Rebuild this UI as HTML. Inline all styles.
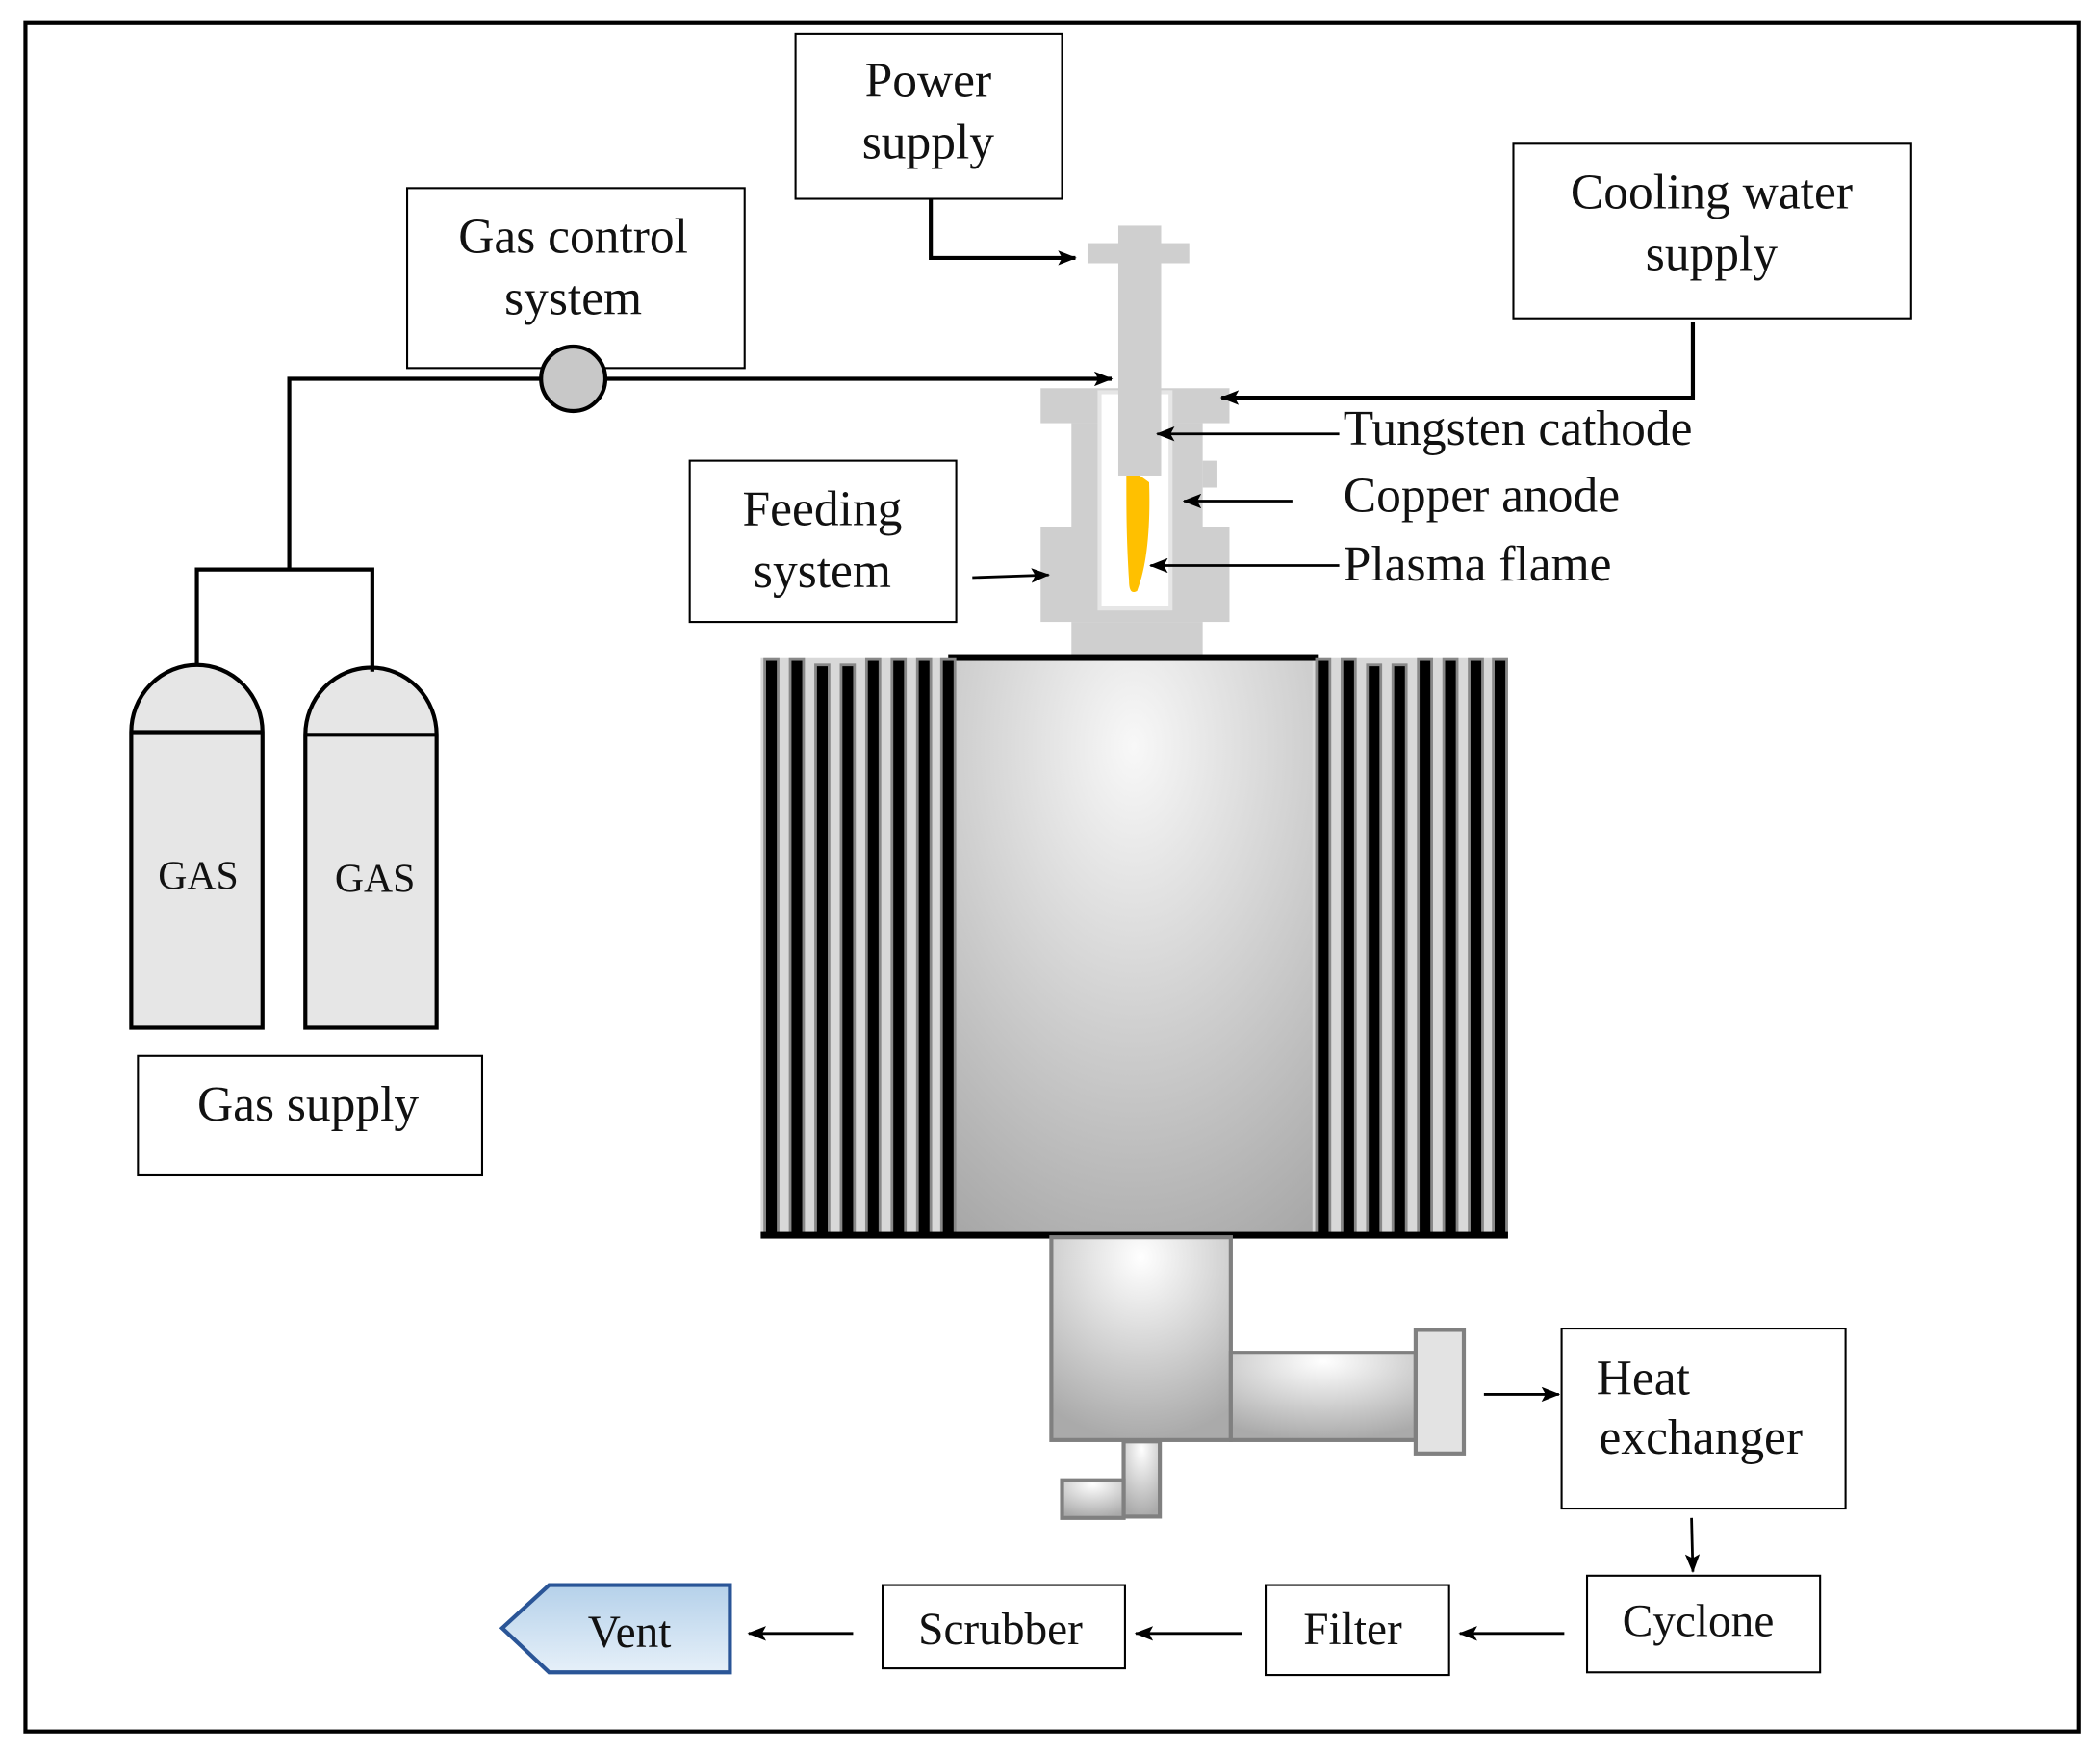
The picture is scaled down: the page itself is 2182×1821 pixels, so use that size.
<!DOCTYPE html>
<html><head><meta charset="utf-8"><style>
html,body{margin:0;padding:0;background:#fff}
svg{display:block}
text{font-family:"Liberation Serif",serif;fill:#111}
</style></head><body>
<svg width="2182" height="1821" viewBox="0 0 1568 1305" preserveAspectRatio="none" xmlns="http://www.w3.org/2000/svg">
<defs>
<marker id="ah" markerWidth="14" markerHeight="11" refX="13" refY="5.5" orient="auto" markerUnits="userSpaceOnUse"><path d="M0,0 L14,5.5 L0,11 L3,5.5 z" fill="#000"/></marker>
<radialGradient id="rg" cx="0.5" cy="0.15" r="1"><stop offset="0" stop-color="#f8f8f8"/><stop offset="1" stop-color="#a5a5a5"/></radialGradient>
<radialGradient id="rg2" cx="0.5" cy="0.1" r="0.9"><stop offset="0" stop-color="#fff"/><stop offset="1" stop-color="#aaa"/></radialGradient>
<linearGradient id="vg" x1="0" y1="0" x2="0" y2="1"><stop offset="0" stop-color="#b5d1ea"/><stop offset="1" stop-color="#e6f0f9"/></linearGradient>
</defs>
<rect x="19" y="17" width="1533" height="1272" fill="none" stroke="#000" stroke-width="3"/>

<!-- boxes -->
<g fill="#fff" stroke="#000" stroke-width="1.5">
<rect x="594" y="25" width="199" height="123"/>
<rect x="304" y="140" width="252" height="134"/>
<rect x="1130" y="107" width="297" height="130"/>
<rect x="515" y="343" width="199" height="120"/>
<rect x="103" y="786" width="257" height="89"/>
<rect x="1166" y="989" width="212" height="134"/>
<rect x="1185" y="1173" width="174" height="72"/>
<rect x="945" y="1180" width="137" height="67"/>
<rect x="659" y="1180" width="181" height="62"/>
</g>
<polygon points="410,1180 545,1180 545,1245 410,1245 375,1212" fill="url(#vg)" stroke="#2a5597" stroke-width="3"/>

<g font-size="37" text-anchor="middle">
<text x="693" y="72">Power</text><text x="693" y="118">supply</text>
<text x="428" y="188">Gas control</text><text x="428" y="234">system</text>
<text x="1278" y="155">Cooling water</text><text x="1278" y="201">supply</text>
<text x="614" y="391">Feeding</text><text x="614" y="437">system</text>
<text x="230" y="834">Gas supply</text>
<text x="1270" y="1082">exchanger</text>
<text x="1268" y="1218" font-size="34">Cyclone</text>
<text x="1010" y="1224" font-size="34">Filter</text>
<text x="747" y="1224" font-size="34">Scrubber</text>
<text x="470" y="1226" font-size="34">Vent</text>
<text x="898" y="846">Reactor</text><text x="898" y="894">chamber</text>
</g>
<g font-size="37">
<text x="1192" y="1038">Heat</text>
<text x="1003" y="331">Tungsten cathode</text>
<text x="1003" y="381">Copper anode</text>
<text x="1003" y="432">Plasma flame</text>
</g>

<!-- gas cylinders -->
<g stroke="#000" stroke-width="3" fill="#e6e6e6">
<path d="M98,765 V545 A49,50 0 0 1 196,545 V765 Z"/>
<line x1="98" y1="545" x2="196" y2="545"/>
<path d="M228,765 V547 A49,50 0 0 1 326,547 V765 Z"/>
<line x1="228" y1="547" x2="326" y2="547"/>
</g>
<text x="148" y="662" font-size="30" text-anchor="middle">GAS</text>
<text x="280" y="664" font-size="30" text-anchor="middle">GAS</text>

<!-- torch -->
<g fill="#cfcfcf">
<rect x="777" y="289" width="141" height="26"/>
<rect x="800" y="315" width="98" height="77"/>
<rect x="898" y="343" width="11" height="20"/>
<rect x="777" y="392" width="141" height="71"/>
<rect x="800" y="463" width="98" height="27"/>
</g>
<rect x="821" y="292" width="53" height="161" fill="#fff" stroke="#e6e6e6" stroke-width="3"/>
<g fill="#cfcfcf">
<rect x="835" y="168" width="32" height="186"/>
<rect x="812" y="181" width="76" height="15"/>
</g>
<path d="M841,354 L851,354 L858,359 C859,390 857,420 849,440 C845,442 843,440 843,432 C841,400 841,380 841,354 Z" fill="#ffc000"/>

<!-- gas lines -->
<g stroke="#000" stroke-width="3" fill="none">
<polyline points="147,495 147,424 278,424 278,500"/>
<polyline points="216,424 216,282 405,282"/>
<line x1="451" y1="282" x2="830" y2="282" marker-end="url(#ah)"/>
<polyline points="695,148 695,192 803,192" marker-end="url(#ah)"/>
<polyline points="1264,240 1264,296 912,296" marker-end="url(#ah)"/>
</g>
<circle cx="428" cy="282" r="24" fill="#c8c8c8" stroke="#000" stroke-width="3"/>
<g stroke="#000" stroke-width="2" fill="none">
<line x1="1000" y1="323" x2="864" y2="323" marker-end="url(#ah)"/>
<line x1="965" y1="373" x2="884" y2="373" marker-end="url(#ah)"/>
<line x1="1000" y1="421" x2="859" y2="421" marker-end="url(#ah)"/>
<line x1="726" y1="430" x2="783" y2="428" marker-end="url(#ah)"/>
<line x1="1108" y1="1038" x2="1164" y2="1038" marker-end="url(#ah)"/>
<line x1="1263" y1="1130" x2="1264" y2="1170" marker-end="url(#ah)"/>
<line x1="1168" y1="1216" x2="1090" y2="1216" marker-end="url(#ah)"/>
<line x1="927" y1="1216" x2="848" y2="1216" marker-end="url(#ah)"/>
<line x1="637" y1="1216" x2="559" y2="1216" marker-end="url(#ah)"/>
</g>

<!-- reactor -->
<rect x="568" y="490" width="558" height="430" fill="#d8d8d8"/>
<rect x="713" y="491" width="267" height="430" fill="url(#rg)"/>
<rect x="708" y="487" width="276" height="5" fill="#000"/>
<g fill="#000" stroke="#888" stroke-width="2">
<rect x="571" y="491" width="10" height="429"/>
<rect x="590" y="491" width="10" height="429"/>
<rect x="609" y="495" width="10" height="425"/>
<rect x="628" y="495" width="10" height="425"/>
<rect x="647" y="491" width="10" height="429"/>
<rect x="666" y="491" width="10" height="429"/>
<rect x="685" y="491" width="10" height="429"/>
<rect x="703" y="491" width="10" height="429"/>
<rect x="983" y="491" width="10" height="429"/>
<rect x="1002" y="491" width="10" height="429"/>
<rect x="1021" y="495" width="10" height="425"/>
<rect x="1040" y="495" width="10" height="425"/>
<rect x="1059" y="491" width="10" height="429"/>
<rect x="1078" y="491" width="10" height="429"/>
<rect x="1097" y="491" width="10" height="429"/>
<rect x="1115" y="491" width="10" height="429"/>
</g>
<rect x="568" y="917" width="558" height="5" fill="#000"/>

<!-- outlet -->
<g stroke="#808080" stroke-width="3">
<rect x="785" y="921" width="134" height="151" fill="url(#rg2)"/>
<rect x="919" y="1007" width="138" height="65" fill="url(#rg2)"/>
<rect x="1057" y="990" width="36" height="92" fill="#e3e3e3"/>
<rect x="839" y="1073" width="27" height="56" fill="url(#rg2)"/>
<rect x="793" y="1102" width="46" height="28" fill="url(#rg2)"/>
</g>
</svg>
</body></html>
